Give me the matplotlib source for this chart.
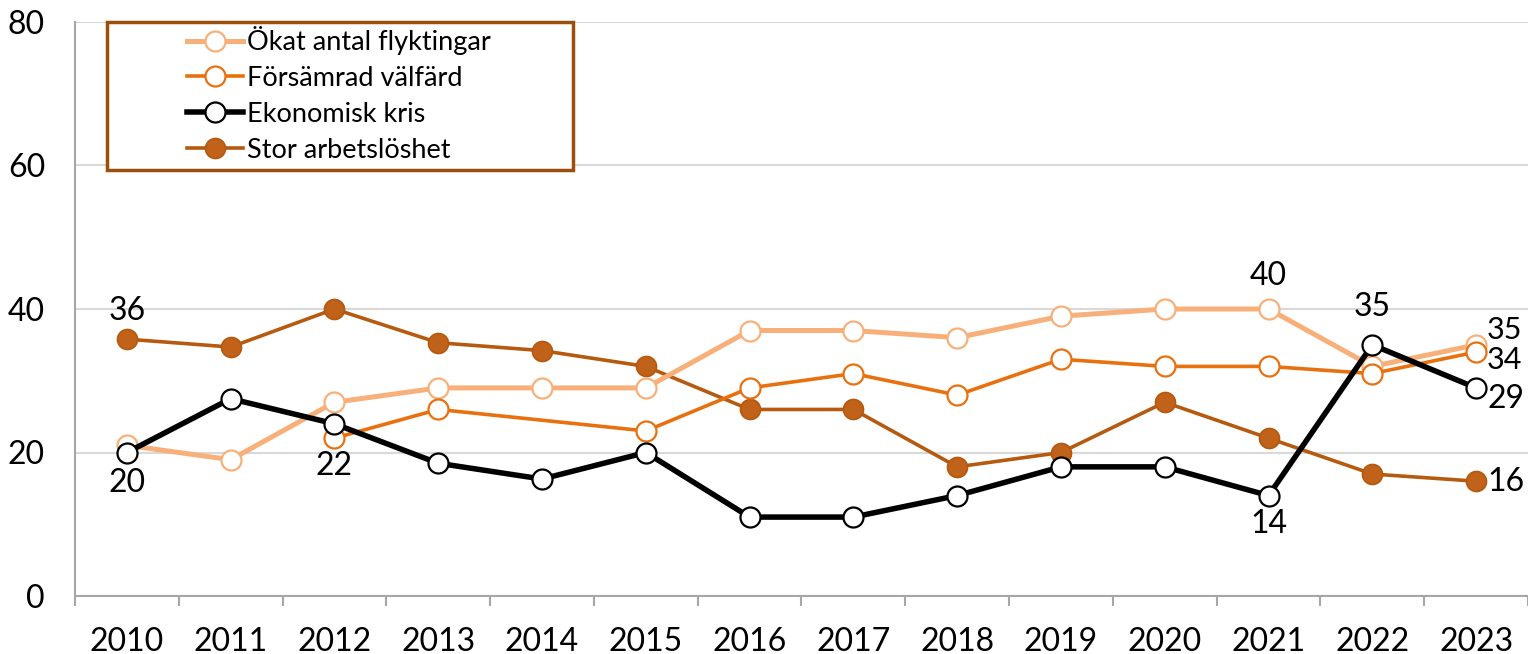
import numpy as np
import matplotlib
matplotlib.use("Agg")
import matplotlib.pyplot as plt
from matplotlib.patches import Rectangle

years = ["2010", "2011", "2012", "2013", "2014", "2015", "2016",
         "2017", "2018", "2019", "2020", "2021", "2022", "2023"]
flyktingar = [21, 19, 27, 29, 29, 29, 37, 37, 36, 39, 40, 40, 32, 35]
valfard = [np.nan, np.nan, 22, 26, np.nan, 23, 29, 31, 28, 33, 32, 32, 31, 34]
kris = [20, 27.5, 24, 18.5, 16.3, 20, 11, 11, 14, 18, 18, 14, 35, 29]
arbetsloshet = [35.8, 34.7, 40, 35.3, 34.2, 32, 26, 26, 18, 20, 27, 22, 17, 16]
series_names = ["Ökat antal flyktingar", "Försämrad välfärd", "Ekonomisk kris", "Stor arbetslöshet"]

FONT = "Lato"
plt.rcParams["font.family"] = [FONT, "DejaVu Sans"]

W, H = 1528, 654
fig = plt.figure(figsize=(W / 100, H / 100), dpi=100)
ax = fig.add_axes([75 / W, 1 - 596 / H, 1 - 75 / W, (596 - 22) / H])

x = np.arange(len(years))
PX = 72 / 100  # points per pixel

def plot_series(vals, color, lw, mfc, mec, mew, label, z):
    v = np.array(vals, dtype=float)
    m = ~np.isnan(v)
    ax.plot(x[m], v[m], color=color, lw=lw, marker="o", ms=20 * PX,
            mfc=mfc, mec=mec, mew=mew, label=label, zorder=z,
            solid_joinstyle="round")

c_fly = "#F8B07A"
c_val = "#E8700F"
c_kris = "#000000"
c_arb = "#B55A0F"

plot_series(flyktingar, c_fly, 5 * PX, "white", c_fly, 1.6, series_names[0], 3)
plot_series(valfard, c_val, 3.6 * PX, "white", c_val, 1.6, series_names[1], 4)
plot_series(kris, c_kris, 5.5 * PX, "white", c_kris, 1.6, series_names[2], 5)
plot_series(arbetsloshet, c_arb, 3.6 * PX, "#C0621A", "#B5590F", 1.2, series_names[3], 2)

ax.set_xlim(-0.48, 13.5)
ax.set_ylim(0, 80)
ax.set_yticks([0, 20, 40, 60, 80])
ax.yaxis.grid(True, color="#D9D9D9", lw=1.5)
ax.set_axisbelow(True)
ax.tick_params(axis="y", length=0, pad=30 * PX, labelsize=23)
ax.set_xticks(x)
ax.set_xticklabels(years)
ax.tick_params(axis="x", which="major", length=0, pad=31 * PX, labelsize=23)
ax.set_xticks(np.arange(-0.5, 13.6, 1), minor=True)
ax.tick_params(axis="x", which="minor", length=10 * PX, width=1.5, color="#A6A6A6", direction="out")
for s in ["top", "right"]:
    ax.spines[s].set_visible(False)
for s in ["left", "bottom"]:
    ax.spines[s].set_color("#A6A6A6")
    ax.spines[s].set_linewidth(1.5)

fs = 23
def lab(xi, yi, txt, dx, dy, ha="center", va="center", size=fs):
    ax.annotate(txt, (xi, yi), xytext=(dx * PX, -dy * PX), textcoords="offset points",
                ha=ha, va=va, fontsize=size, zorder=10)

lab(0, arbetsloshet[0], "36", 0, -28)
lab(0, kris[0], "20", 0, 30)
lab(2, valfard[2], "22", 0, 28)
lab(11, flyktingar[11], "40", 0, -33)
lab(11, kris[11], "14", 0, 28)
lab(12, kris[12], "35", 0, -38)
lab(13, flyktingar[13], "35", 11, -15, ha="left", size=22)
lab(13, valfard[13], "34", 11, 8, ha="left", size=22)
lab(13, kris[13], "29", 11, 11, ha="left")
lab(13, arbetsloshet[13], "16", 11, 1, ha="left")

# legend frame
fig.patches.append(Rectangle((107 / W, 1 - 170 / H), (573 - 107) / W, (170 - 22) / H,
                             transform=fig.transFigure, fill=True, facecolor="white",
                             edgecolor="#9C4F0C", lw=2.5, zorder=20))
leg = fig.legend(loc="upper left", bbox_to_anchor=(187 / W, 1 - 26 / H),
                 frameon=False, fontsize=19.5, handlelength=2.05, handletextpad=0.18,
                 labelspacing=0.4, borderpad=0, borderaxespad=0)
leg.set_zorder(21)

fig.savefig("out.png", dpi=100)
